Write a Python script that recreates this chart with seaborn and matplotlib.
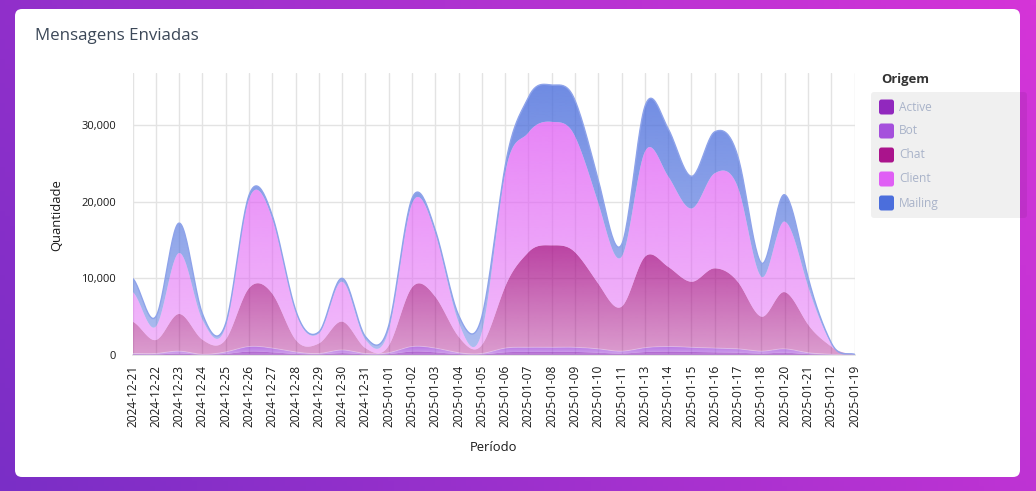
import numpy as np
import pandas as pd
import matplotlib
matplotlib.use("Agg")
import matplotlib.pyplot as plt
import seaborn as sns
from matplotlib.patches import FancyBboxPatch
from matplotlib.colors import to_rgb
from matplotlib.ticker import FuncFormatter

# ---------------- data ----------------
periods = ["2024-12-21", "2024-12-22", "2024-12-23", "2024-12-24", "2024-12-25",
           "2024-12-26", "2024-12-27", "2024-12-28", "2024-12-29", "2024-12-30",
           "2024-12-31", "2025-01-01", "2025-01-02", "2025-01-03", "2025-01-04",
           "2025-01-05", "2025-01-06", "2025-01-07", "2025-01-08", "2025-01-09",
           "2025-01-10", "2025-01-11", "2025-01-13", "2025-01-14", "2025-01-15",
           "2025-01-16", "2025-01-17", "2025-01-18", "2025-01-20", "2025-01-21",
           "2025-01-12", "2025-01-19"]
active = [80, 60, 200, 40, 150, 450, 350, 150, 80, 250, 80, 120, 450, 350, 120, 80,
          350, 400, 400, 400, 300, 200, 380, 450, 400, 350, 300, 200, 300, 120, 40, 0]
bot = [120, 140, 300, 60, 250, 650, 550, 250, 120, 400, 120, 180, 650, 550, 180, 120,
       550, 600, 600, 600, 500, 300, 570, 650, 600, 550, 500, 300, 500, 180, 60, 0]
chat = [4150, 1750, 4850, 1900, 1600, 7600, 7100, 1600, 1300, 3700, 700, 900, 7700, 6700,
        2100, 1100, 8000, 12400, 13300, 12400, 8500, 5800, 11850, 10400, 8550, 10400,
        8700, 4500, 7400, 3700, 1000, 50]
client = [3900, 1750, 7950, 2600, 1700, 11600, 9800, 3700, 1300, 5200, 1100, 2000, 10900,
          8300, 1900, 1700, 14800, 15600, 16100, 15100, 10500, 6500, 13700, 11800, 9550,
          12400, 12300, 5200, 9200, 5000, 400, 50]
mailing = [1750, 1300, 3900, 800, 400, 500, 400, 200, 200, 450, 400, 600, 700, 400, 900,
           2000, 900, 4600, 4800, 4700, 3000, 1600, 5900, 6200, 4200, 5400, 4000, 1800,
           3500, 1200, 100, 0]
series_names = ["Active", "Bot", "Chat", "Client", "Mailing"]
series_colors = ["#9128be", "#a550dc", "#aa148c", "#e05ff5", "#4b6edc"]
yticks = [0, 10000, 20000, 30000]

# ---------------- style ----------------
sns.set_theme(style="whitegrid")
plt.rcParams["font.family"] = ["Open Sans", "DejaVu Sans"]

W, H = 1036, 491
fig = plt.figure(figsize=(W / 100, H / 100), dpi=100)

# background gradient + white card
bg = fig.add_axes([0, 0, 1, 1], zorder=0)
bg.set_xlim(0, W)
bg.set_ylim(H, 0)
bg.axis("off")
gx, gy = np.meshgrid(np.linspace(0, 1, 200), np.linspace(0, 1, 100))
t = np.clip(0.75 * gx + 0.25 * (1 - gy), 0, 1)
c0 = np.array(to_rgb("#7a2ec6"))
c1 = np.array(to_rgb("#d535d8"))
img = c0[None, None, :] * (1 - t[..., None]) + c1[None, None, :] * t[..., None]
bg.imshow(img, extent=[0, W, H, 0], aspect="auto", origin="upper")
bg.add_patch(FancyBboxPatch((15, 9), 1005, 468, boxstyle="round,pad=0,rounding_size=7",
                            facecolor="white", edgecolor="none"))

# ---------------- chart ----------------
left_px, right_px, top_px, bot_px = 132.5, 854.5, 73, 355
ax = fig.add_axes([left_px / W, 1 - bot_px / H, (right_px - left_px) / W,
                   (bot_px - top_px) / H], zorder=5)
ax.set_facecolor("none")

df = pd.DataFrame({"Active": active, "Bot": bot, "Chat": chat, "Client": client,
                   "Mailing": mailing}, index=periods)
n = len(periods)
xpos = np.arange(n)


def smooth(vals, c=0.6, steps=24):
    """Cardinal curve through the points (rendering only)."""
    y = np.asarray(vals, float)
    m = np.empty_like(y)
    m[1:-1] = c * (y[2:] - y[:-2])
    m[0] = (y[1] - y[0]) / 2.0
    m[-1] = (y[-1] - y[-2]) / 2.0
    xs, ys = [], []
    tt = np.linspace(0, 1, steps, endpoint=False)
    h00 = 2 * tt**3 - 3 * tt**2 + 1
    h10 = tt**3 - 2 * tt**2 + tt
    h01 = -2 * tt**3 + 3 * tt**2
    h11 = tt**3 - tt**2
    for i in range(len(y) - 1):
        xs.append(i + tt)
        ys.append(h00 * y[i] + h10 * m[i] + h01 * y[i + 1] + h11 * m[i + 1])
    xs.append([len(y) - 1])
    ys.append([y[-1]])
    return np.concatenate(xs), np.concatenate(ys)


ymax = 36770
cum = np.zeros(n)
alpha_top = [0.8, 0.8, 0.8, 0.76, 0.8]
alpha_bot = [0.5, 0.5, 0.42, 0.42, 0.45]
for k, name in enumerate(series_names):
    new = cum + df[name].values
    xs_s, up = smooth(new)
    _, lo = smooth(cum)
    up = np.maximum(up, 0)
    lo = np.maximum(lo, 0)
    lo = np.minimum(lo, up)
    poly = ax.fill_between(xs_s, lo, up, facecolor="none", edgecolor="none", zorder=3)
    y1 = max(up.max(), 1.0)
    grad = np.zeros((256, 1, 4))
    grad[..., :3] = to_rgb(series_colors[k])
    grad[:, 0, 3] = np.linspace(alpha_bot[k], alpha_top[k], 256)
    im = ax.imshow(grad, extent=[0, n - 1, 0, y1], aspect="auto", origin="lower",
                   zorder=3, interpolation="bilinear")
    im.set_clip_path(poly.get_paths()[0], transform=ax.transData)
    cum = new
    if name == "Mailing":
        sns.lineplot(x=xs_s, y=up, ax=ax, color="#8ea3ea", linewidth=1.0, zorder=4)
    if name == "Bot":
        sns.lineplot(x=xs_s, y=up, ax=ax, color="white", alpha=0.3, linewidth=0.7, zorder=4)

ax.set_xlim(0, n - 1)
ax.set_ylim(0, ymax)
ax.set_xticks(xpos)
ax.set_xticklabels(periods, rotation=90, fontsize=8.6, color="#1a1a1a")
ax.set_yticks(yticks)
ax.yaxis.set_major_formatter(FuncFormatter(lambda v, p: f"{int(v):,}"))
ax.tick_params(axis="y", labelsize=8, colors="#1a1a1a", length=0, pad=12)
ax.tick_params(axis="x", length=0, pad=7)
ax.grid(True, color="#e3e3e3", linewidth=1.0, zorder=0)
ax.set_axisbelow(True)
for s in ["top", "right", "left"]:
    ax.spines[s].set_visible(False)
ax.spines["bottom"].set_color("#e3e3e3")
ax.set_xlabel("Período", fontsize=9.4, color="#1a1a1a")
ax.set_ylabel("Quantidade", fontsize=9.4, color="#1a1a1a")
ax.xaxis.set_label_coords(0.5, (bot_px - 447) / (bot_px - top_px))
ax.xaxis.label.set_va("center")
ax.yaxis.set_label_coords((57 - left_px) / (right_px - left_px), (bot_px - 215) / (bot_px - top_px))
ax.yaxis.label.set_va("center")

# ---------------- overlay: title + legend ----------------
ov = fig.add_axes([0, 0, 1, 1], zorder=10)
ov.set_xlim(0, W)
ov.set_ylim(H, 0)
ov.axis("off")
ov.set_facecolor("none")
ov.text(35, 36, "Mensagens Enviadas", fontsize=12.2, color="#3c4858", va="center", ha="left")
ov.text(881, 79, "Origem", fontsize=9.4, fontweight="bold", color="#333333", va="center", ha="left")
ov.add_patch(FancyBboxPatch((871, 92), 156, 126, boxstyle="round,pad=0,rounding_size=3",
                            facecolor=(0, 0, 0, 0.06), edgecolor="none"))
for i, (name, col) in enumerate(zip(series_names, series_colors)):
    yc = 107 + 24 * i
    ov.add_patch(FancyBboxPatch((879, yc - 7.5), 15, 15, boxstyle="round,pad=0,rounding_size=2.5",
                                facecolor=col, edgecolor="none"))
    ov.text(899, yc, name, fontsize=8.6, color="#a9b3c9", va="center", ha="left")

fig.savefig("out.png", dpi=100)
